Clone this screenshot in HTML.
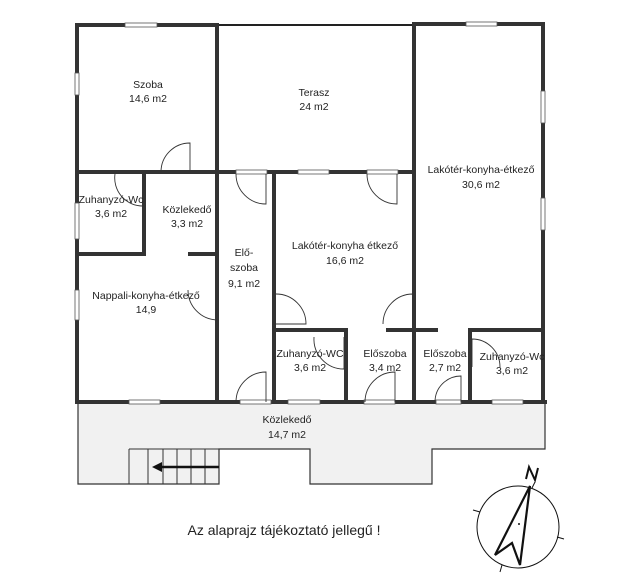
<!DOCTYPE html>
<html><head><meta charset="utf-8"><style>
html,body{margin:0;padding:0;background:#fff;}
svg{display:block;}
text{font-family:"Liberation Sans",sans-serif;font-size:10.5px;fill:#222;text-anchor:middle;}
</style></head><body>
<svg width="640" height="587" viewBox="0 0 640 587" xmlns="http://www.w3.org/2000/svg">
<path d="M78,403 L78,484 L219,484 L219,449 L310,449 L310,484 L432,484 L432,449 L545,449 L545,403 Z" fill="#f1f1f1" stroke="#333" stroke-width="1.2"/>
<g stroke="#333" stroke-width="1" fill="none">
<path d="M129,449 L219,449 M129,449 L129,484 M148,449 L148,484 M163,449 L163,484 M177,449 L177,484 M191,449 L191,484 M205,449 L205,484"/>
</g>
<line x1="219" y1="467" x2="160" y2="467" stroke="#111" stroke-width="2.5"/>
<polygon points="152,467 162,462 162,472" fill="#111"/>
<line x1="217" y1="25" x2="414" y2="25" stroke="#222" stroke-width="2"/>
<g stroke="#333" stroke-width="4" fill="none" stroke-linecap="square">
<path d="M77,25 L217,25 M414,24 L543,24 M77,25 L77,402 L545,402 M543,24 L543,402"/>
<path d="M217,25 L217,402 M414,24 L414,402 M77,172 L414,172"/>
<path d="M144,172 L144,254 M77,254 L144,254 M190,254 L217,254 M274,172 L274,402"/>
<path d="M274,330 L346,330 M346,330 L346,402 M388,330 L436,330 M470,330 L543,330 M470,330 L470,402"/>
</g>
<g fill="#fff" stroke="#555" stroke-width="0.8">
<rect x="125" y="23" width="32" height="4"/>
<rect x="466" y="22" width="31" height="4"/>
<rect x="75" y="73" width="4" height="22"/>
<rect x="75" y="203" width="4" height="36"/>
<rect x="75" y="290" width="4" height="30"/>
<rect x="541" y="91" width="4" height="32"/>
<rect x="541" y="198" width="4" height="32"/>
<rect x="236" y="170" width="31" height="4"/>
<rect x="298" y="170" width="31" height="4"/>
<rect x="367" y="170" width="31" height="4"/>
<rect x="129" y="400" width="31" height="4"/>
<rect x="240" y="400" width="31" height="4"/>
<rect x="288" y="400" width="32" height="4"/>
<rect x="364" y="400" width="31" height="4"/>
<rect x="436" y="400" width="25" height="4"/>
<rect x="492" y="400" width="31" height="4"/>
</g>
<g stroke="#333" stroke-width="0.9" fill="none">
<path d="M161,172 A29,29 0 0 1 190,143 L190,172"/>
<path d="M115,174 A28,28 0 0 0 143,206 M143,174 L143,206"/>
<path d="M236,174 A30,30 0 0 0 266,204 L266,174"/>
<path d="M188,290 A30,30 0 0 0 217,320 L217,290"/>
<path d="M236,402 A30,30 0 0 1 266,372 L266,402"/>
<path d="M276,294 A30,30 0 0 1 306,324 L276,324"/>
<path d="M367,174 A30,30 0 0 0 397,204 L397,174"/>
<path d="M383,324 A30,30 0 0 1 413,294 L413,324"/>
<path d="M314,337 A30,30 0 0 0 344,369 L344,337"/>
<path d="M365,402 A30,30 0 0 1 395,372 L395,402"/>
<path d="M435,402 A26,26 0 0 1 461,376 L461,402"/>
<path d="M472,339 A28,28 0 0 1 500,367 M472,339 L472,367"/>
</g>
<text x="148" y="88">Szoba</text><text x="148" y="102">14,6 m2</text>
<text x="314" y="96">Terasz</text><text x="314" y="110">24 m2</text>
<text x="481" y="173">Lakótér-konyha-étkező</text><text x="481" y="188">30,6 m2</text>
<text x="111" y="203">Zuhanyzó-Wc</text><text x="111" y="217">3,6 m2</text>
<text x="187" y="213">Közlekedő</text><text x="187" y="227">3,3 m2</text>
<text x="244" y="256">Elő-</text><text x="244" y="271">szoba</text><text x="244" y="287">9,1 m2</text>
<text x="345" y="249">Lakótér-konyha étkező</text><text x="345" y="264">16,6 m2</text>
<text x="146" y="299">Nappali-konyha-étkező</text><text x="146" y="313">14,9</text>
<text x="310" y="357">Zuhanyzó-WC</text><text x="310" y="371">3,6 m2</text>
<text x="385" y="357">Előszoba</text><text x="385" y="371">3,4 m2</text>
<text x="445" y="357">Előszoba</text><text x="445" y="371">2,7 m2</text>
<text x="512" y="360">Zuhanyzó-Wc</text><text x="512" y="374">3,6 m2</text>
<text x="287" y="423">Közlekedő</text><text x="287" y="438">14,7 m2</text>
<text x="284" y="535" style="font-size:14px">Az alaprajz tájékoztató jellegű !</text>
<g stroke="#111" fill="none">
<circle cx="518" cy="527" r="41" stroke-width="1"/>
<path d="M473,510 L480,512 M557,537 L564,539 M502,565 L500,572 M532,488 L535,482" stroke-width="1"/>
<path d="M530,486 L495,555 L512,543 L520,565 Z" stroke-width="2.2"/>
<path d="M526,479 L529,467 L535,480 L538,468" stroke-width="2"/>
</g>
<circle cx="519" cy="524" r="1" fill="#111"/>
</svg>
</body></html>
